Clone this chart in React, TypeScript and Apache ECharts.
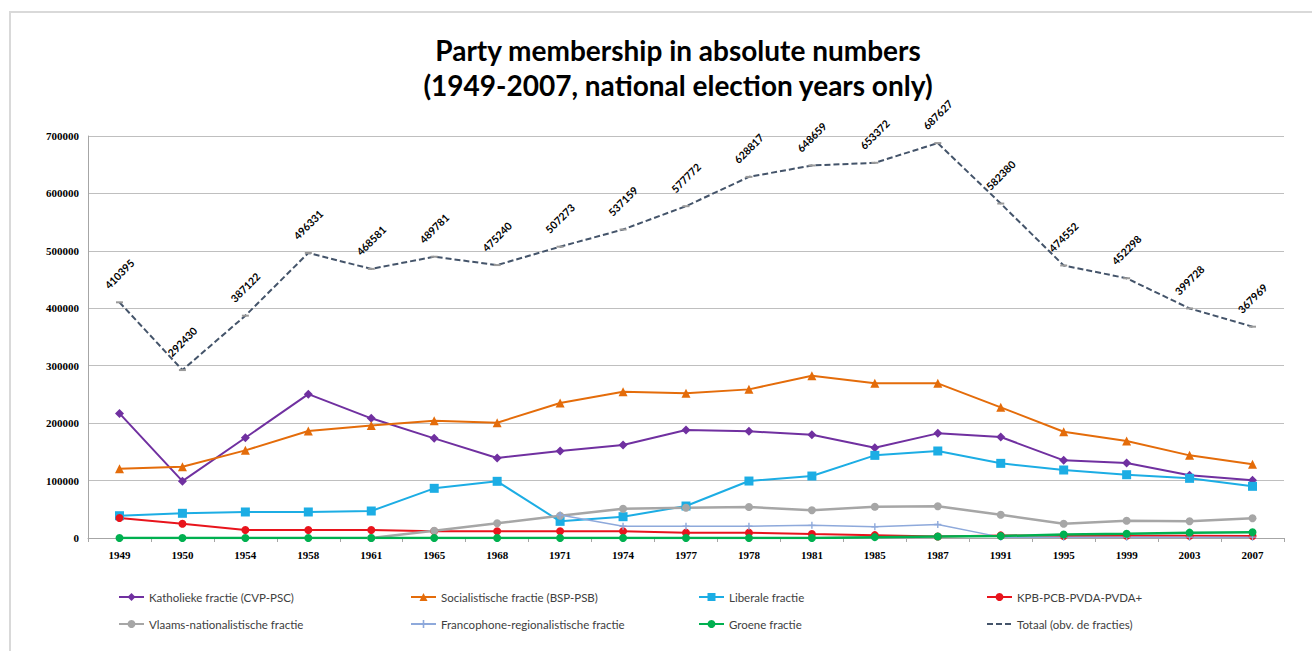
import React, { useEffect, useRef } from "react";
import * as echarts from "echarts";

const years = ["1949","1950","1954","1958","1961","1965","1968","1971","1974","1977","1978","1981","1985","1987","1991","1995","1999","2003","2007"];
const katholieke = [217000, 99000, 174600, 250500, 208400, 173500, 139300, 151500, 161900, 188000, 185700, 179900, 157300, 182200, 175800, 135200, 130600, 109100, 100400];
const socialistische = [120700, 124200, 152600, 186300, 196100, 204300, 200800, 235000, 254800, 251900, 258800, 282600, 269300, 269300, 227500, 185100, 168900, 143900, 128300];
const liberale = [38800, 43000, 45300, 45300, 47000, 86500, 98700, 29000, 37100, 55700, 99200, 107900, 143900, 151500, 130000, 118400, 110200, 103900, 90000];
const kpb = [34800, 24900, 14000, 14000, 14000, 11600, 11600, 11600, 11600, 9300, 9300, 7000, 5000, 2500, 4500, 3500, 4000, 4000, 3500];
const vlaams = [null, null, null, null, 0, 12700, 25600, 38800, 51000, 52800, 54000, 48200, 54500, 55200, 40500, 24900, 30100, 29100, 34300];
const francophone = [null, null, null, null, null, null, null, 40000, 20500, 20500, 20500, 22000, 19700, 23500, 1500, 1500, 1500, 1500, 1500];
const groene = [0, 0, 0, 0, 0, 0, 0, 0, 0, 0, 0, 0, 1500, 2500, 3500, 6000, 7500, 9300, 9900];
const totaal = [410395, 292430, 387122, 496331, 468581, 489781, 475240, 507273, 537159, 577772, 628817, 648659, 653372, 687627, 582380, 474552, 452298, 399728, 367969];

const names = [
  "Katholieke fractie (CVP-PSC)",
  "Socialistische fractie (BSP-PSB)",
  "Liberale fractie",
  "KPB-PCB-PVDA-PVDA+",
  "Vlaams-nationalistische fractie",
  "Francophone-regionalistische fractie",
  "Groene fractie",
  "Totaal (obv. de fracties)",
];

const legendCols = [118, 410, 698, 986];
const legendRows = [591, 618];

export default function App() {
  const ref = useRef<HTMLDivElement>(null);
  useEffect(() => {
    if (!ref.current) return;
    const chart = echarts.init(ref.current, null, { renderer: "svg" });
    const plus = "path://M4,0H6V10H4ZM0,4H10V6H0Z";
    const line = (name: string, data: any[], color: string, symbol: string, size: any, extra: any = {}) => ({
      name,
      type: "line",
      data,
      symbol,
      symbolSize: size,
      showSymbol: true,
      connectNulls: false,
      lineStyle: { color, width: 2 },
      itemStyle: { color },
      emphasis: { disabled: true },
      ...extra,
    });
    const option: any = {
      animation: false,
      backgroundColor: "#ffffff",
      title: {
        text: "Party membership in absolute numbers\n(1949-2007, national election years only)",
        left: 673,
        textAlign: "center",
        top: 27,
        textStyle: { fontFamily: "Lato", fontWeight: "bold", fontSize: 28, lineHeight: 35, color: "#000000" },
      },
      graphic: [
        {
          type: "polyline",
          shape: { points: [[10, 700], [10, 12], [1320, 12]] },
          style: { stroke: "#D9D9D9", lineWidth: 2, fill: null },
          silent: true,
        },
      ],
      grid: { left: 88, right: 28, top: 136, bottom: 113 },
      xAxis: {
        type: "category",
        data: years,
        boundaryGap: true,
        axisLine: { lineStyle: { color: "#A6A6A6", width: 1 } },
        axisTick: { show: true, length: 4, lineStyle: { color: "#A6A6A6" } },
        axisLabel: { fontFamily: "Liberation Serif", fontWeight: "bold", fontSize: 11, color: "#000000", margin: 11 },
      },
      yAxis: {
        type: "value",
        min: 0,
        max: 700000,
        interval: 100000,
        axisLine: { show: true, lineStyle: { color: "#A6A6A6" } },
        axisTick: { show: false },
        splitLine: { lineStyle: { color: "#BFBFBF", width: 1 } },
        axisLabel: {
          formatter: (v: number) => String(v),
          fontFamily: "Liberation Serif",
          fontWeight: "bold",
          fontSize: 11,
          color: "#000000",
          margin: 9,
        },
      },
      legend: names.map((n, i) => ({
        data: [n],
        left: legendCols[i % 4],
        top: legendRows[Math.floor(i / 4)],
        padding: 0,
        itemWidth: 25,
        itemHeight: 10,
        selectedMode: false,
        textStyle: { fontFamily: "Lato", fontSize: 11.5, color: "#404040" },
        ...(i === 7 ? { itemStyle: { opacity: 0 } } : {}),
      })),
      series: [
        line(names[0], katholieke, "#7030A0", "diamond", 9),
        line(names[1], socialistische, "#E46C0A", "triangle", 9),
        line(names[2], liberale, "#1CADE4", "rect", 9),
        line(names[3], kpb, "#E8141C", "circle", 8),
        line(names[4], vlaams, "#A6A6A6", "circle", 8, { lineStyle: { color: "#A6A6A6", width: 2.5 } }),
        line(names[5], francophone, "#8EA9DB", plus, 7, { lineStyle: { color: "#8EA9DB", width: 1.5 } }),
        line(names[6], groene, "#00B050", "circle", 8, { lineStyle: { color: "#00B050", width: 2.5 } }),
        line(names[7], totaal, "#44546A", "rect", [7, 2], {
          lineStyle: { color: "#44546A", width: 2, type: [6, 3] },
          itemStyle: { color: "#9A9A9A" },
          label: {
            show: true,
            position: "inside",
            rotate: 45,
            align: "center",
            verticalAlign: "middle",
            offset: [20, -20],
            fontFamily: "Lato",
            fontWeight: "bold",
            fontSize: 10.5,
            color: "#000000",
          },
        }),
      ],
    };
    chart.setOption(option);
    return () => chart.dispose();
  }, []);
  return (
    <div style={{ position: "fixed", left: 0, top: 0, width: 1312, height: 651, background: "#fff" }}>
      <div ref={ref} style={{ width: 1312, height: 651 }} />
    </div>
  );
}
